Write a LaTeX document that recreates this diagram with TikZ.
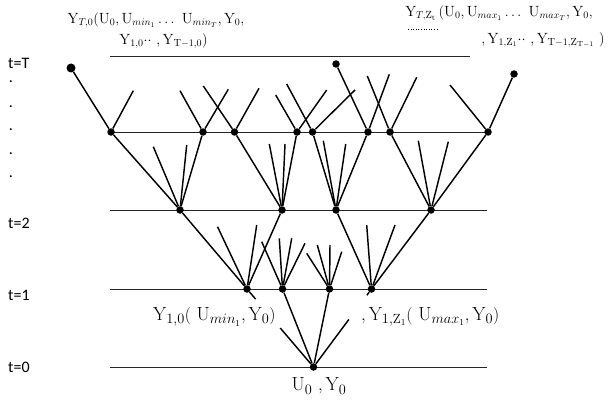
\documentclass[tikz,border=0pt]{standalone}
\usepackage{fontspec}
\newfontfamily\calib{Carlito}
\usetikzlibrary{calc}
\begin{document}
\begin{tikzpicture}[x=1pt,y=-1pt,
  dot/.style={circle,fill=black,inner sep=0pt,minimum size=7.5pt},
  enddot/.style={circle,fill=black,inner sep=0pt,minimum size=9pt},
  edge/.style={line width=1.45pt,black},
  level/.style={line width=1pt,black!85},
  tlab/.style={font=\calib\fontsize{16}{18}\selectfont,anchor=west,inner sep=0pt},
  vdot/.style={font=\calib\fontsize{16}{18}\selectfont,inner sep=0pt},
  mlab/.style={font=\fontsize{19}{21}\selectfont,inner sep=0pt},
  toplab/.style={font=\fontsize{14.8}{17}\selectfont,inner sep=0pt}]
\useasboundingbox (0,0) rectangle (612,401);

% time labels
\node[tlab] (tT) at (8,63) {t=T};
\node[tlab] (t2) at (8,223) {t=2};
\node[tlab] (t1) at (8,295) {t=1};
\node[tlab] (t0) at (8,367) {t=0};
\foreach \yy [count=\i] in {82,107,130,154,177} \node[vdot] (vd\i) at (11,\yy) {.};

% level lines
\coordinate (LTa) at (110,57);  \coordinate (LTb) at (470,57);
\coordinate (LAa) at (111,132); \coordinate (LAb) at (488,132);
\coordinate (L2a) at (110,210); \coordinate (L2b) at (487,210);
\coordinate (L1a) at (110,289); \coordinate (L1b) at (487,289);
\coordinate (L0a) at (110,367); \coordinate (L0b) at (487,367);
\foreach \a/\b in {LTa/LTb,LAa/LAb,L2a/L2b,L1a/L1b,L0a/L0b} \draw[level] (\a) -- (\b);

% nodes
\node[enddot] (D1) at (71,68) {};
\node[dot] (D2) at (336,64) {};
\node[dot] (D3) at (514,74) {};
\node[dot] (A1) at (111,132) {};
\node[dot] (A2) at (203,132) {};
\node[dot] (A3) at (234.5,132) {};
\node[dot] (A4) at (297,132) {};
\node[dot] (A5) at (312.5,132) {};
\node[dot] (A6) at (368,132) {};
\node[dot] (A7) at (390,132) {};
\node[dot] (A8) at (488,132) {};
\node[dot] (B1) at (180,210) {};
\node[dot] (B2) at (282,210) {};
\node[dot] (B3) at (336,210) {};
\node[dot] (B4) at (431,210) {};
\node[dot] (C1) at (247,289) {};
\node[dot] (C2) at (282.5,289) {};
\node[dot] (C3) at (329.5,289) {};
\node[dot] (C4) at (371.5,289) {};
\node[dot] (R) at (313.5,367) {};

% tree edges
\foreach \a/\b in {D1/A1,A1/B1,A2/B1,A3/B2,A4/B2,A5/B3,A6/B3,A7/B4,A8/B4,D2/A6,D3/A8,
                   B1/C1,B2/C1,B3/C4,B4/C4,R/C2,R/C3}
  \draw[edge] (\a) -- (\b);

% interrupted edges (hidden behind the labels)
\coordinate (r1) at ($(R)!0.5!(C1)$);  \coordinate (c1d) at ($(R)!0.87!(C1)$);
\coordinate (r4) at ($(R)!0.61!(C4)$); \coordinate (c4d) at ($(R)!0.92!(C4)$);
\draw[edge] (R) -- (r1);  \draw[edge] (C1) -- (c1d);
\draw[edge] (R) -- (r4);  \draw[edge] (C4) -- (c4d);

% stubs
\foreach \n/\x/\y [count=\i] in {A1/133.3/90.7, A2/180/90.7, A2/228.3/89.3, A3/203.3/86, A3/259/88.3,
   A4/275.7/95, A4/326.7/90, A5/286.7/84, A5/355/90, A6/389.3/74.3, A7/367.3/76, A7/416.7/77.3,
   A8/450/85, B1/153.3/146.7, B1/186.7/145, B2/269.3/144, B2/285/144, B3/323.3/140.7, B3/345.7/144,
   B4/418.3/140.7, B4/448.3/141.7, C1/217.5/226.7, C1/256.7/225, C2/261.7/241.7, C2/279.3/238.3,
   C2/291.7/238.3, C2/305/243.3, C3/306.7/253.3, C3/317.3/245, C3/330/245, C3/341.7/251.7,
   C4/366.7/225, C4/395/225}
{ \coordinate (s\i) at (\x,\y); \draw[edge] (\n) -- (s\i); }

% top labels
\node[toplab] (LL1) at (156,20) {$\mathrm{Y}_{T,0}(\mathrm{U}_0,\mathrm{U}_{min_1}\ldots\ \mathrm{U}_{min_T},\mathrm{Y}_0,$};
\node[toplab] (LL2) at (163.5,41) {$\mathrm{Y}_{1,0}{\cdot}{\cdot}\ ,\mathrm{Y}_{\mathrm{T}-1,0})$};
\node[toplab] (RL1) at (499,13) {$\mathrm{Y}_{T,\mathrm{Z_t}}\,(\mathrm{U}_0,\mathrm{U}_{max_1}\ldots\ \mathrm{U}_{max_T},\mathrm{Y}_0,$};
\coordinate (u1) at (408,29); \coordinate (u2) at (437,29);
\draw[dotted,line width=0.6pt] (u1) -- (u2);
\node[toplab] (RL2) at (543,40) {$,\mathrm{Y}_{1,\mathrm{Z}_1}{\cdot}{\cdot}\ ,\mathrm{Y}_{\mathrm{T}-1,\mathrm{Z}_{\mathrm{T}-1}}\ )$};

% bottom labels
\node[mlab,anchor=west] (LY10) at (153,317) {$\mathrm{Y}_{1,0}(\ \mathrm{U}_{min_1},\mathrm{Y}_0)$};
\node[mlab,anchor=west] (LY1Z) at (361,317) {$,\mathrm{Y}_{1,\mathrm{Z}_1}(\ \mathrm{U}_{max_1},\mathrm{Y}_0)$};
\node[mlab] (LU) at (319,386) {$\mathrm{U}_0\ ,\mathrm{Y}_0$};
\end{tikzpicture}
\end{document}
